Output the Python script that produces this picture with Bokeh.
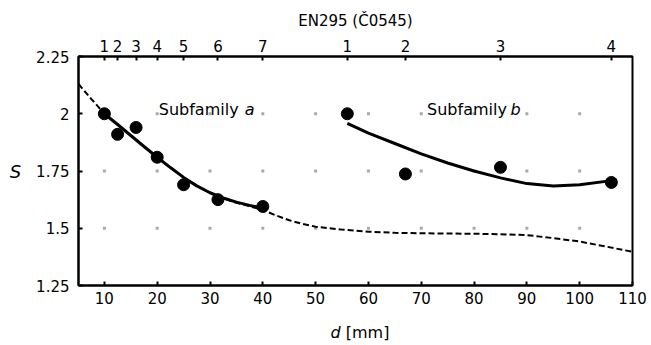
from bokeh.plotting import figure
from bokeh.models import LinearAxis, FixedTicker, Label, Range1d, Div
from bokeh.layouts import column
from bokeh.embed import file_html
from bokeh.resources import INLINE

# ---- data ----
# Subfamily a measured points
a_d = [10, 12.5, 16, 20, 25, 31.5, 40]
a_s = [2.0, 1.91, 1.94, 1.81, 1.69, 1.625, 1.595]
# Subfamily b measured points
b_d = [56, 67, 85, 106]
b_s = [2.0, 1.737, 1.766, 1.70]
# fitted curve subfamily a (solid)
fa_d = [10, 12.5, 15, 17.5, 20, 22.5, 25, 27.5, 30, 32.5, 35, 37.5, 40]
fa_s = [2.0, 1.953, 1.905, 1.857, 1.81, 1.765, 1.722, 1.685, 1.655, 1.632, 1.614, 1.6, 1.588]
# fitted curve subfamily b (solid)
fb_d = [56, 60, 65, 70, 75, 80, 85, 90, 95, 100, 106]
fb_s = [1.958, 1.915, 1.87, 1.825, 1.785, 1.75, 1.72, 1.695, 1.685, 1.69, 1.708]
# overall trend (dashed)
t_d = [5.1, 7.5, 10, 12.5, 15, 17.5, 20, 22.5, 25, 27.5, 30, 32.5, 35, 37.5, 40, 42.5,
       45, 47.5, 50, 55, 60, 65, 70, 80, 85, 90, 95, 100, 105, 110]
t_s = [2.13, 2.065, 2.0, 1.953, 1.905, 1.857, 1.81, 1.765, 1.722, 1.685, 1.655, 1.631,
       1.611, 1.596, 1.58, 1.556, 1.535, 1.519, 1.507, 1.494, 1.485, 1.48, 1.478, 1.476,
       1.474, 1.47, 1.457, 1.442, 1.42, 1.397]

x_ticks = [10, 20, 30, 40, 50, 60, 70, 80, 90, 100, 110]
y_ticks = [1.25, 1.5, 1.75, 2.0, 2.25]
y_labels = ["1.25", "1.5", "1.75", "2", "2.25"]
top_ticks = [10, 12.5, 16, 20, 25, 31.5, 40, 56, 67, 85, 106]
top_labels = ["1", "2", "3", "4", "5", "6", "7", "1", "2", "3", "4"]
grid_x = [t for t in x_ticks if 10 <= t <= 100]
grid_y = [1.5, 1.75, 2.0]

FONT = "DejaVu Sans"

p = figure(width=651, height=315, output_backend="svg", toolbar_location=None,
           x_range=Range1d(5.1, 110), y_range=Range1d(1.25, 2.25),
           min_border_left=78, min_border_right=19, min_border_top=56, min_border_bottom=30,
           x_axis_location="below")
p.background_fill_color = "white"
p.border_fill_color = "white"
p.grid.visible = False
p.outline_line_color = "black"
p.outline_line_width = 2

# bottom axis
xa = p.xaxis[0]
xa.ticker = FixedTicker(ticks=x_ticks)
xa.major_tick_in = 4
xa.major_tick_out = 0
xa.minor_tick_line_color = None
xa.axis_line_width = 2
xa.major_tick_line_width = 2
xa.major_label_standoff = 6
xa.major_label_text_font = FONT
xa.major_label_text_font_size = "15px"
xa.major_label_text_color = "black"

# left axis
ya = p.yaxis[0]
ya.ticker = FixedTicker(ticks=y_ticks)
ya.major_label_overrides = {t: l for t, l in zip(y_ticks, y_labels)}
ya.major_tick_in = 4
ya.major_tick_out = 0
ya.minor_tick_line_color = None
ya.axis_line_width = 2
ya.major_tick_line_width = 2
ya.major_label_standoff = 9
ya.major_label_text_font = FONT
ya.major_label_text_font_size = "15px"
ya.major_label_text_color = "black"
ya.axis_label = "S"
ya.axis_label_orientation = "horizontal"
ya.axis_label_text_font = FONT
ya.axis_label_text_font_style = "italic"
ya.axis_label_text_font_size = "18px"
ya.axis_label_standoff = 12
ya.axis_label_text_color = "black"

# top axis
top = LinearAxis(ticker=FixedTicker(ticks=top_ticks),
                 major_label_overrides={t: l for t, l in zip(top_ticks, top_labels)})
top.major_tick_in = 4
top.major_tick_out = 0
top.minor_tick_line_color = None
top.axis_line_width = 2
top.major_tick_line_width = 2
top.major_label_standoff = 5
top.major_label_text_font = FONT
top.major_label_text_font_size = "15px"
top.major_label_text_color = "black"
top.axis_label = "EN295 (Č0545)"
top.axis_label_text_font = FONT
top.axis_label_text_font_style = "normal"
top.axis_label_text_font_size = "15px"
top.axis_label_standoff = 7
top.axis_label_text_color = "black"
p.add_layout(top, "above")

# grid dots
gx = [x for y in grid_y for x in grid_x]
gy = [y for y in grid_y for x in grid_x]
p.scatter(gx, gy, marker="square", size=3, color="#aaaaaa", line_color=None)

# curves
p.line(t_d, t_s, line_color="black", line_width=2, line_dash="6 3")
p.line(fa_d, fa_s, line_color="black", line_width=3)
p.line(fb_d, fb_s, line_color="black", line_width=3)

# points
p.scatter(a_d, a_s, marker="circle", size=12, color="black")
p.scatter(b_d, b_s, marker="circle", size=12, color="black")

# in-plot labels
def lab(x, y, t, style="normal", size="16px"):
    p.add_layout(Label(x=x, y=y, text=t, text_font=FONT, text_font_style=style,
                       text_font_size=size, text_color="black",
                       text_baseline="alphabetic", text_align="left"))

lab(20.3, 2.018, "Subfamily")
lab(36.6, 2.018, "a", "italic")
lab(71.1, 2.018, "Subfamily")
lab(86.9, 2.018, "b", "italic")

# bottom axis title with italic d
xlabel = Div(text="<i>d</i> [mm]", width=651, height=30,
             styles={"font-family": "DejaVu Sans", "font-size": "16px",
                     "line-height": "20px", "text-align": "center",
                     "padding-left": "59px", "padding-top": "3px",
                     "box-sizing": "border-box", "color": "black"})

layout = column(p, xlabel, spacing=0)
open("out.html", "w").write(file_html(layout, INLINE))
